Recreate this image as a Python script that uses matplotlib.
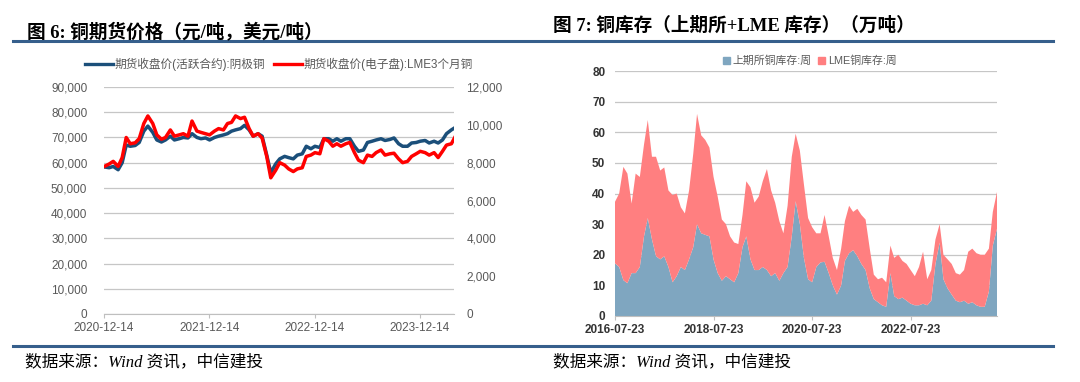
import pandas as pd
import matplotlib
matplotlib.use('Agg')
import matplotlib.pyplot as plt
from matplotlib.lines import Line2D
from matplotlib.patches import Patch
from matplotlib.ticker import FuncFormatter

CJK = ['Liberation Sans', 'Noto Sans CJK SC']
SERIF_CJK = ['Liberation Serif', 'Noto Sans CJK SC']

# ---- copper futures prices, sampled twice a month (2020-12 .. 2024-04)
price_dates = pd.date_range('2020-12-15', '2024-04-15', freq='SMS')
shfe_price = [58300, 58000, 58500, 57200, 60000, 67000, 66500, 66800, 68000, 72500,
              74500, 72000, 69000, 68200, 69000, 70500, 69000, 69500, 70000, 69800,
              71500, 70000, 69500, 69800, 69000, 70000, 70500, 71000, 71500, 72500,
              73000, 73500, 74800, 73000, 70500, 71500, 70500, 63000, 56000, 59500,
              61500, 62500, 62000, 61500, 63000, 63500, 66500, 65500, 66500, 66000,
              69500, 69500, 68500, 69500, 68500, 69500, 69500, 66500, 64500, 65000,
              68000, 68500, 69000, 69500, 68800, 69200, 69800, 67500, 66500, 66500,
              67800, 68000, 68500, 68800, 67800, 68500, 67800, 69000, 71500, 73000, 74000]
lme_price = [7800, 7930, 8070, 7800, 8270, 9330, 9000, 9050, 9270, 10070,
             10470, 10070, 9470, 9240, 9330, 9730, 9400, 9470, 9530, 9400,
             10200, 9670, 9600, 9530, 9470, 9670, 9800, 9730, 10070, 10130,
             10470, 10330, 10400, 9800, 9400, 9530, 9300, 8330, 7200, 7600,
             8000, 7870, 7670, 7530, 7670, 7730, 8330, 8400, 8530, 8470,
             9270, 9130, 8870, 9000, 8870, 9000, 9070, 8530, 8130, 8000,
             8400, 8330, 8530, 8670, 8400, 8470, 8500, 8200, 8000, 8070,
             8330, 8470, 8600, 8530, 8400, 8530, 8270, 8600, 8930, 9000, 9400]
price_ticks = ['2020-12-14', '2021-12-14', '2022-12-14', '2023-12-14']

# ---- copper inventories (10k tonnes), monthly from 2016-07-23
stock_dates = pd.date_range('2016-07-23', periods=94, freq=pd.DateOffset(months=1))
shfe_stock = [17.2, 16, 11.7, 10.7, 14, 14, 16, 26, 32, 25,
              19.5, 18.5, 19.5, 16, 11, 13, 16, 15, 18.5, 22.5,
              30, 27, 26.5, 26, 18.5, 14, 11.5, 13, 12, 11,
              14, 22.5, 26, 18.5, 15, 15, 16, 15, 13, 14,
              11.5, 14, 16, 26, 37.5, 30, 19, 12, 11, 16,
              17.5, 17.7, 14, 10, 7, 10, 18, 20.5, 21.5, 19.5,
              17, 15, 9, 5.5, 4.5, 3.5, 3, 14, 6.5, 5.5,
              6, 5, 4, 3.5, 3.5, 4, 3.5, 5, 17, 24,
              12, 9, 7, 5, 4.5, 5, 4, 4.5, 3.5, 3,
              3, 8, 23, 28.5]
lme_stock = [20.1, 24, 37, 35.8, 22.7, 32.5, 29.4, 30, 32, 27,
             32.5, 29, 29, 25, 28.5, 27, 19.5, 18.5, 22.5, 30.5,
             36, 32, 31, 29, 27, 25, 20, 17, 14, 13,
             9.5, 10.5, 18, 23.5, 22, 24, 28, 33, 28, 23,
             19.5, 13, 20, 26, 22, 24, 24, 20, 18, 11,
             9.5, 15.3, 12, 9, 8, 12, 13, 15.5, 12.5, 15.5,
             16, 16.5, 13, 8, 7.5, 9, 8, 9, 12.5, 14.5,
             12, 12, 11, 9.5, 12.5, 17, 8.5, 10, 8, 6,
             8, 9.5, 10, 9, 9, 10, 17, 17.5, 17, 17,
             17, 14, 11, 12]
stock_ticks = ['2016-07-23', '2018-07-23', '2020-07-23', '2022-07-23']

BLUE_LINE = '#1b4f7a'
RED_LINE = '#ff0000'
BLUE_FILL = '#7fa6c0'
RED_FILL = '#ff7f80'
RULE = '#365f8c'
GRID = '#c6c6c6'

fig = plt.figure(figsize=(10.8, 3.82), dpi=100)

# titles / rules / sources
fig.text(27 / 1080, 1 - 32 / 382, '图 6: 铜期货价格（元/吨，美元/吨）', family=SERIF_CJK,
         fontweight='bold', fontsize=13.4, va='center', ha='left')
fig.text(553 / 1080, 1 - 26 / 382, '图 7: 铜库存（上期所+LME 库存）（万吨）', family=SERIF_CJK,
         fontweight='bold', fontsize=13.4, va='center', ha='left')
for y in (41, 346):
    fig.add_artist(Line2D([13 / 1080, 1053 / 1080], [1 - y / 382, 1 - y / 382],
                          color=RULE, lw=2.2, transform=fig.transFigure))
for x in (25, 553):
    fig.text(x / 1080, 1 - 362 / 382, '数据来源：Wind 资讯，中信建投', family=SERIF_CJK,
             style='italic', fontsize=12, va='center', ha='left')

thousands = FuncFormatter(lambda v, p: f'{int(v):,}')

# ---- left: prices
ax = fig.add_axes([104 / 1080, 1 - 314 / 382, 350 / 1080, 227 / 382])
ax.plot(price_dates, shfe_price, color=BLUE_LINE, lw=2.5)
ax.set_ylim(0, 90000)
ax.set_yticks(range(0, 90001, 10000))
ax.yaxis.set_major_formatter(thousands)
ax2 = ax.twinx()
ax2.plot(price_dates, lme_price, color=RED_LINE, lw=2.5)
ax2.set_ylim(0, 12000)
ax2.set_yticks(range(0, 12001, 2000))
ax2.yaxis.set_major_formatter(thousands)
ax.set_xlim(pd.Timestamp('2020-12-14'), pd.Timestamp('2024-04-10'))
ax.set_xticks(pd.to_datetime(price_ticks))
ax.set_xticklabels(price_ticks)
ax.grid(axis='y', color=GRID, lw=0.9)
ax.set_axisbelow(True)
for a in (ax, ax2):
    for s in ('top', 'left', 'right'):
        a.spines[s].set_visible(False)
    a.spines['bottom'].set_color('#bfbfbf')
ax2.spines['bottom'].set_visible(False)
ax.tick_params(axis='y', length=0, pad=12, labelsize=8.5, labelcolor='#595959')
ax2.tick_params(axis='y', length=0, pad=9, labelsize=8.5, labelcolor='#595959')
ax.tick_params(axis='x', length=3, color='#bfbfbf', pad=3, labelsize=8.5, labelcolor='#595959')
for lbl in ax.get_xticklabels() + ax.get_yticklabels() + ax2.get_yticklabels():
    lbl.set_family('Liberation Sans')

handles = [Line2D([], [], color=BLUE_LINE, lw=2.4), Line2D([], [], color=RED_LINE, lw=2.4)]
fig.legend(handles, ['期货收盘价(活跃合约):阴极铜', '期货收盘价(电子盘):LME3个月铜'],
           loc='center', bbox_to_anchor=(279 / 1080, 1 - 64 / 382), ncol=2, frameon=False,
           handlelength=2.4, handletextpad=0.1, columnspacing=0.8,
           prop={'family': CJK, 'size': 8.4}, labelcolor='#595959')

# ---- right: inventories
bx = fig.add_axes([615 / 1080, 1 - 316 / 382, 382 / 1080, 245 / 382])
bx.stackplot(stock_dates, shfe_stock, lme_stock, colors=[BLUE_FILL, RED_FILL], lw=0)
bx.set_ylim(0, 80)
bx.set_yticks(range(0, 81, 10))
bx.set_xlim(stock_dates[0], stock_dates[-1])
bx.set_xticks(pd.to_datetime(stock_ticks))
bx.set_xticklabels(stock_ticks)
bx.grid(axis='y', color=GRID, lw=0.9)
bx.set_axisbelow(True)
for s in ('top', 'left', 'right'):
    bx.spines[s].set_visible(False)
bx.spines['bottom'].set_color('#bfbfbf')
bx.tick_params(axis='y', length=0, pad=7, labelsize=8.5, labelcolor='#333333')
bx.tick_params(axis='x', length=3, color='#bfbfbf', pad=3, labelsize=8.5, labelcolor='#333333')
for lbl in bx.get_xticklabels() + bx.get_yticklabels():
    lbl.set_family('Liberation Sans')
    lbl.set_fontweight('bold')

phandles = [Patch(color=BLUE_FILL), Patch(color=RED_FILL)]
fig.legend(phandles, ['上期所铜库存:周', 'LME铜库存:周'], loc='center',
           bbox_to_anchor=(810 / 1080, 1 - 61 / 382), ncol=2, frameon=False,
           handlelength=0.6, handleheight=0.6, handletextpad=0.3, columnspacing=0.6,
           prop={'family': CJK, 'size': 7.8}, labelcolor='#595959')

fig.savefig('out.png', dpi=100)
